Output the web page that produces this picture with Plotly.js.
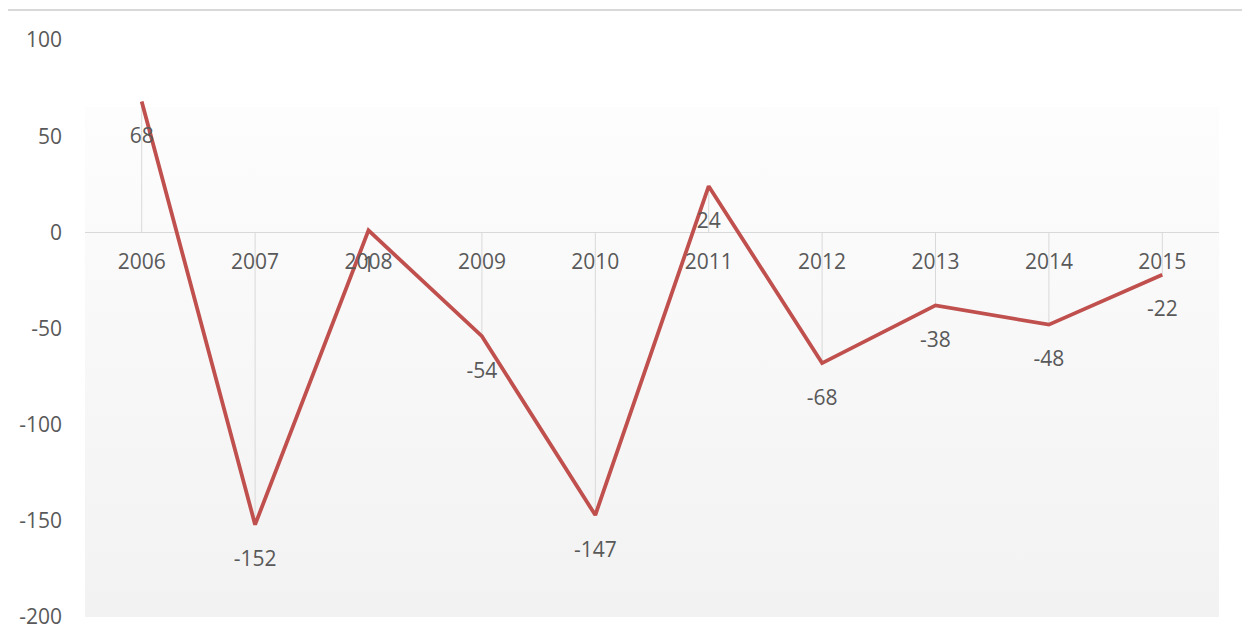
<!DOCTYPE html>
<html>
<head>
<meta charset="utf-8">
<script src="https://cdn.plot.ly/plotly-3.0.1.min.js"></script>
<style>html,body{margin:0;padding:0;background:#fff;}#chart{width:1242px;height:639px;}</style>
</head>
<body>
<div id="chart"></div>
<script>
var years = ['2006','2007','2008','2009','2010','2011','2012','2013','2014','2015'];
var values = [68, -152, 1, -54, -147, 24, -68, -38, -48, -22];
var yTicks = [-200, -150, -100, -50, 0, 50, 100];
var yTickText = ['-200', '-150', '-100', '-50', '0', '50', '100'];

var font = "Open Sans, Noto Sans, sans-serif";
var grey = '#595959';

var dropUp = values.map(function(v){ return v < 0 ? -v : 0; });
var dropDown = values.map(function(v){ return v > 0 ? v : 0; });

var drops = {
  x: years, y: values, type: 'scatter', mode: 'markers',
  marker: {size: 1, opacity: 0},
  error_y: {type: 'data', symmetric: false, array: dropUp, arrayminus: dropDown,
            width: 0, thickness: 1, color: '#d9d9d9'},
  hoverinfo: 'skip', showlegend: false
};
var line = {
  x: years, y: values, type: 'scatter', mode: 'lines',
  line: {color: '#c0504d', width: 3.8},
  showlegend: false
};
var labels = {
  x: years, y: values, type: 'scatter', mode: 'markers+text',
  marker: {size: 40, opacity: 0},
  text: values.map(String), textposition: 'bottom center',
  textfont: {family: font, size: 21, color: grey},
  showlegend: false, hoverinfo: 'skip'
};

var svg = '<svg xmlns="http://www.w3.org/2000/svg" width="100" height="100" preserveAspectRatio="none">' +
  '<defs><linearGradient id="g" x1="0" y1="0" x2="0" y2="1">' +
  '<stop offset="0" stop-color="#fdfdfd"/><stop offset="1" stop-color="#f2f2f2"/>' +
  '</linearGradient></defs><rect width="100" height="100" fill="url(#g)"/></svg>';
var bgTop = (617 - 107) / 577;

var layout = {
  width: 1242, height: 639,
  margin: {l: 85, r: 23, t: 40, b: 22},
  paper_bgcolor: '#ffffff', plot_bgcolor: 'rgba(0,0,0,0)',
  showlegend: false,
  xaxis: {
    type: 'category', range: [-0.5, 9.5], anchor: 'free', position: 2/3,
    showgrid: false, showline: false, zeroline: false, ticks: '', ticklabelstandoff: 15,
    tickfont: {family: font, size: 21, color: grey}, fixedrange: true
  },
  yaxis: {
    range: [-200, 100], tickvals: yTicks, ticktext: yTickText, showgrid: false, showline: false,
    zeroline: true, zerolinecolor: '#d9d9d9', zerolinewidth: 1,
    ticks: '', ticklabelstandoff: 22,
    tickfont: {family: font, size: 21, color: grey}, fixedrange: true
  },
  images: [{source: 'data:image/svg+xml;charset=utf-8,' + encodeURIComponent(svg),
            xref: 'paper', yref: 'paper', x: 0, y: bgTop, sizex: 1, sizey: bgTop,
            sizing: 'stretch', xanchor: 'left', yanchor: 'top', layer: 'below'}],
  shapes: [{type: 'line', xref: 'paper', yref: 'paper',
            x0: (8 - 85) / 1134, x1: (1242 - 85) / 1134,
            y0: (617 - 10) / 577, y1: (617 - 10) / 577,
            line: {color: '#d9d9d9', width: 2}}]
};

Plotly.newPlot('chart', [drops, line, labels], layout, {displayModeBar: false, staticPlot: true});
</script>
</body>
</html>
